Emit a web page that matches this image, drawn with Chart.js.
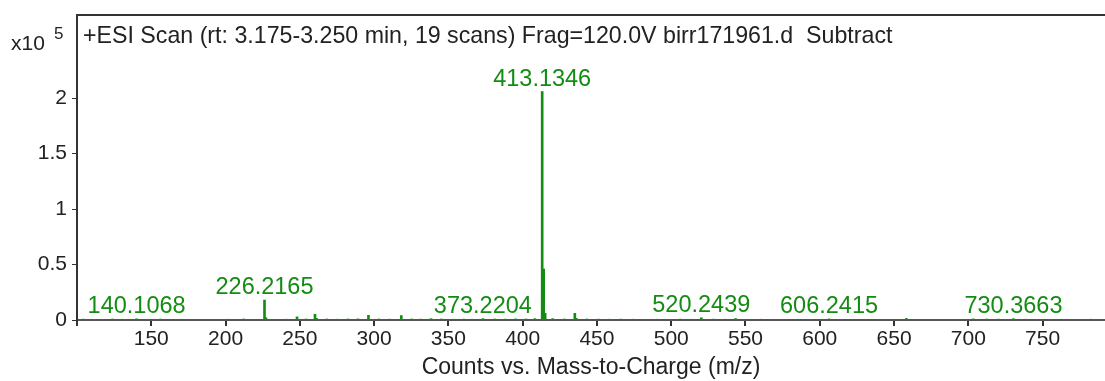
<!DOCTYPE html>
<html>
<head>
<meta charset="utf-8">
<script src="https://cdn.jsdelivr.net/npm/chart.js@4.4.1/dist/chart.umd.min.js"></script>
<style>
  html, body { margin: 0; padding: 0; background: #fff; }
  #wrap { width: 1105px; height: 381px; position: relative; }
</style>
</head>
<body>
<div id="wrap"><canvas id="spectrum"></canvas></div>
<script>
// Espectro de massas (centroides): m/z e contagens
const peakMz = [
  104.1, 112.0, 118.1, 124.0, 130.1, 140.1068, 147.1, 156.1, 163.1, 170.1,
  184.1, 193.1, 201.1, 212.2, 219.1, 226.2165, 227.2, 241.1, 248.1, 254.2,
  260.2, 261.2, 268.2, 275.2, 282.3, 289.2, 296.2, 303.2, 310.2, 318.3,
  325.2, 331.2, 338.3, 345.2, 353.3, 360.3, 366.3, 373.2204, 381.2, 388.3,
  395.2, 402.3, 408.2, 413.1346, 414.1378, 415.13, 420.2, 428.2, 435.1166, 436.1,
  443.2, 451.2, 458.3, 466.2, 474.3, 482.3, 490.3, 498.3, 506.2, 513.3,
  520.2439, 528.3, 536.3, 543.3, 551.3, 560.3, 568.3, 577.3, 585.3, 594.3,
  606.2415, 614.3, 622.3, 631.3, 640.3, 649.3, 658.3, 667.3, 676.3, 685.3,
  694.3, 703.3, 712.3, 720.3, 730.3663, 738.4, 746.4, 755.4, 764.4, 773.4, 782.4
];
const peakCounts = [
  800, 600, 500, 900, 700, 1100, 600, 800, 500, 700,
  600, 500, 700, 900, 600, 18000, 2000, 700, 2800, 900,
  5200, 1500, 900, 700, 900, 1000, 4200, 900, 800, 4000,
  900, 800, 1200, 900, 700, 800, 700, 1200, 900, 800,
  1000, 900, 1200, 206000, 46000, 6000, 1200, 900, 6000, 1500,
  900, 800, 700, 800, 700, 600, 700, 600, 800, 700,
  2000, 800, 700, 1300, 600, 700, 600, 500, 700, 600,
  1000, 600, 500, 600, 500, 600, 1400, 500, 600, 500,
  600, 1000, 900, 800, 1200, 700, 600, 500, 600, 500, 700
];
// picos anotados
const labeledMz = [140.1068, 226.2165, 373.2204, 413.1346, 520.2439, 606.2415, 730.3663];

// eixos
const xTicks = [100, 150, 200, 250, 300, 350, 400, 450, 500, 550, 600, 650, 700, 750];
const yTicks = [0, 50000, 100000, 150000, 200000];
const xMin = 100, xMax = 792;
const yMax = 275000;

const titleText = '+ESI Scan (rt: 3.175-3.250 min, 19 scans) Frag=120.0V birr171961.d  Subtract';
const xTitle = 'Counts vs. Mass-to-Charge (m/z)';

const green = 'rgb(20,140,20)';
const axisColor = '#333';
const fontFamily = '"Liberation Sans", Arial, sans-serif';

// desenha moldura superior, título interno, multiplicador e rótulos dos picos
const annotations = {
  id: 'annotations',
  afterDatasetsDraw(chart) {
    const { ctx, chartArea, scales } = chart;
    ctx.save();
    // linha superior da moldura
    ctx.strokeStyle = axisColor;
    ctx.lineWidth = 2;
    ctx.beginPath();
    ctx.moveTo(chartArea.left - 1, chartArea.top);
    ctx.lineTo(chart.width, chartArea.top);
    ctx.stroke();

    ctx.fillStyle = '#222';
    ctx.font = '23.2px ' + fontFamily;
    ctx.textBaseline = 'alphabetic';
    ctx.textAlign = 'left';
    ctx.fillText(titleText, chartArea.left + 6, chartArea.top + 28);

    // x10^5
    ctx.font = '21px ' + fontFamily;
    ctx.fillText('x10', 11, 50);
    ctx.font = '17px ' + fontFamily;
    ctx.fillText('5', 54, 39);

    // rótulos dos picos
    ctx.fillStyle = green;
    ctx.font = '23.5px ' + fontFamily;
    ctx.textAlign = 'center';
    labeledMz.forEach(mz => {
      const i = peakMz.indexOf(mz);
      const px = scales.x.getPixelForValue(mz);
      const py = scales.y.getPixelForValue(peakCounts[i]);
      ctx.fillText(mz.toFixed(4), px, py - 6);
    });
    ctx.restore();
  }
};

const ctx = document.getElementById('spectrum').getContext('2d');
new Chart(ctx, {
  type: 'bar',
  data: {
    datasets: [{
      data: peakMz.map((mz, i) => ({ x: mz, y: peakCounts[i] })),
      backgroundColor: green,
      borderWidth: 0,
      barThickness: 2
    }]
  },
  options: {
    responsive: true,
    maintainAspectRatio: false,
    animation: false,
    layout: { padding: { top: 15, left: 0, right: 0, bottom: 0 } },
    plugins: {
      legend: { display: false },
      tooltip: { enabled: false }
    },
    scales: {
      x: {
        type: 'linear',
        min: xMin,
        max: xMax,
        offset: false,
        afterBuildTicks: axis => { axis.ticks = xTicks.map(v => ({ value: v })); },
        afterFit: axis => { axis.height = 61; axis.paddingLeft = 0; axis.paddingRight = 0; },
        ticks: {
          color: '#222',
          font: { family: fontFamily, size: 21 },
          padding: 1,
          maxRotation: 0,
          autoSkip: false,
          callback: v => (v === xMin ? '' : v)
        },
        grid: { display: true, drawOnChartArea: false, offset: false, color: axisColor, tickLength: 6, lineWidth: 2 },
        border: { display: true, color: '#555', width: 2 },
        title: {
          display: true,
          text: xTitle,
          color: '#222',
          font: { family: fontFamily, size: 23 },
          padding: { top: 6, bottom: 0 }
        }
      },
      y: {
        min: 0,
        max: yMax,
        afterBuildTicks: axis => { axis.ticks = yTicks.map(v => ({ value: v })); },
        afterFit: axis => { axis.width = 77; axis.paddingTop = 0; axis.paddingBottom = 0; },
        ticks: {
          color: '#222',
          font: { family: fontFamily, size: 21 },
          padding: 5,
          callback: v => String(v / 100000)
        },
        grid: { display: true, drawOnChartArea: false, color: axisColor, tickLength: 5, lineWidth: 1 },
        border: { display: true, color: axisColor, width: 2 }
      }
    }
  },
  plugins: [annotations]
});
</script>
</body>
</html>
